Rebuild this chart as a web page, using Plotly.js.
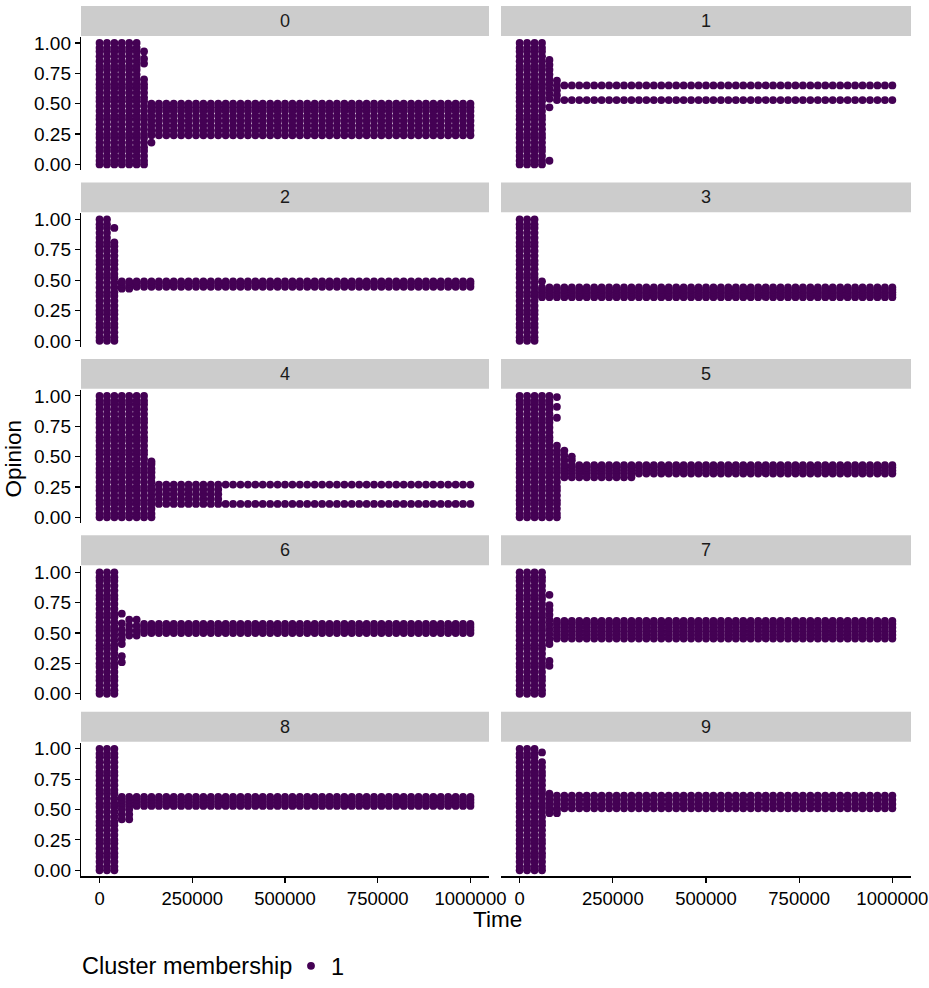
<!DOCTYPE html>
<html>
<head>
<meta charset="utf-8">
<script src="https://cdn.plot.ly/plotly-3.0.1.min.js"></script>
<style>
  html, body { margin: 0; padding: 0; background: #ffffff; }
  #chart { width: 929px; height: 988px; }
</style>
</head>
<body>
<div id="chart"></div>
<script>
// Sampled time steps of the simulation
const TIMES = [0, 20000, 40000, 60000, 80000, 100000, 120000, 140000, 160000, 180000,
  200000, 220000, 240000, 260000, 280000, 300000, 320000, 340000, 360000, 380000,
  400000, 420000, 440000, 460000, 480000, 500000, 520000, 540000, 560000, 580000,
  600000, 620000, 640000, 660000, 680000, 700000, 720000, 740000, 760000, 780000,
  800000, 820000, 840000, 860000, 880000, 900000, 920000, 940000, 960000, 980000, 1000000];

// Opinions of the agents at the start of a run (spread over the whole scale)
const FULL = [0.00, 0.03, 0.07, 0.11, 0.14, 0.18, 0.22, 0.25, 0.29, 0.33, 0.37, 0.40, 0.44,
  0.48, 0.52, 0.55, 0.59, 0.63, 0.66, 0.70, 0.74, 0.78, 0.81, 0.85, 0.89, 0.93, 0.96, 1.00];

const upTo = (vals, hi) => vals.filter(v => v <= hi);

// Per run: transient columns [time, opinions] and settled opinion rows [opinion, from, to]
const cols0 = [[0, FULL], [20000, FULL], [40000, FULL], [60000, FULL], [80000, FULL], [100000, FULL],
  [120000, upTo(FULL, 0.72).concat([0.83, 0.87, 0.93])], [140000, [0.18]]];
const band0 = [[0.24, 140000, 1000000], [0.28, 140000, 1000000], [0.32, 140000, 1000000],
  [0.36, 140000, 1000000], [0.40, 140000, 1000000], [0.44, 140000, 1000000],
  [0.47, 140000, 1000000], [0.50, 140000, 1000000]];

const cols1 = [[0, FULL], [20000, FULL], [40000, FULL], [60000, FULL],
  [80000, [0.03, 0.47, 0.54, 0.58, 0.62, 0.66, 0.70, 0.74, 0.78, 0.82, 0.86]],
  [100000, [0.53, 0.57, 0.61, 0.65, 0.69]]];
const band1 = [[0.53, 120000, 1000000], [0.65, 120000, 1000000]];

const cols2 = [[0, FULL], [20000, FULL], [40000, upTo(FULL, 0.81).concat([0.93])],
  [60000, [0.43]], [80000, [0.43]]];
const band2 = [[0.445, 60000, 1000000], [0.47, 60000, 1000000], [0.49, 60000, 1000000]];

const cols3 = [[0, FULL], [20000, FULL], [40000, FULL], [60000, [0.49]]];
const band3 = [[0.36, 60000, 1000000], [0.38, 60000, 1000000], [0.40, 60000, 1000000],
  [0.42, 60000, 1000000], [0.44, 60000, 1000000]];

const cols4 = [[0, FULL], [20000, FULL], [40000, FULL], [60000, FULL], [80000, FULL],
  [100000, FULL], [120000, FULL], [140000, upTo(FULL, 0.44).concat([0.46])]];
const band4 = [[0.11, 160000, 1000000], [0.27, 160000, 1000000], [0.15, 160000, 320000],
  [0.19, 160000, 320000], [0.23, 160000, 320000]];

const cols5 = [[0, FULL], [20000, FULL], [40000, FULL], [60000, FULL], [80000, FULL],
  [100000, upTo(FULL, 0.60).concat([0.82, 0.91, 0.99])],
  [120000, [0.47, 0.51, 0.55]], [140000, [0.47, 0.50]]];
const band5 = [[0.36, 120000, 1000000], [0.385, 120000, 1000000], [0.41, 120000, 1000000],
  [0.43, 120000, 1000000], [0.33, 120000, 300000]];

const cols6 = [[0, FULL], [20000, FULL], [40000, FULL],
  [60000, [0.26, 0.31, 0.41, 0.45, 0.49, 0.53, 0.58, 0.66]],
  [80000, [0.48, 0.52, 0.56, 0.61]], [100000, [0.48, 0.52, 0.56, 0.61]]];
const band6 = [[0.50, 120000, 1000000], [0.525, 120000, 1000000], [0.55, 120000, 1000000],
  [0.575, 120000, 1000000]];

const cols7 = [[0, FULL], [20000, FULL], [40000, FULL], [60000, FULL],
  [80000, [0.23, 0.27, 0.41, 0.45, 0.49, 0.53, 0.57, 0.61, 0.65, 0.69, 0.73, 0.815]]];
const band7 = [[0.455, 100000, 1000000], [0.485, 100000, 1000000], [0.515, 100000, 1000000],
  [0.545, 100000, 1000000], [0.575, 100000, 1000000], [0.60, 100000, 1000000]];

const cols8 = [[0, FULL], [20000, FULL], [40000, FULL],
  [60000, [0.42, 0.46, 0.50]], [80000, [0.42, 0.46, 0.50]]];
const band8 = [[0.53, 60000, 1000000], [0.555, 60000, 1000000], [0.58, 60000, 1000000],
  [0.605, 60000, 1000000]];

const cols9 = [[0, FULL], [20000, FULL], [40000, FULL],
  [60000, upTo(FULL, 0.89).concat([0.97])], [80000, [0.47, 0.50, 0.63]], [100000, [0.47, 0.50]]];
const band9 = [[0.51, 80000, 1000000], [0.545, 80000, 1000000], [0.58, 80000, 1000000],
  [0.615, 80000, 1000000]];

const RUN_LABELS = ['0', '1', '2', '3', '4', '5', '6', '7', '8', '9'];
const X_TICKS = [0, 250000, 500000, 750000, 1000000];
const X_TICK_TEXT = ['0', '250000', '500000', '750000', '1000000'];
const Y_TICKS = [0, 0.25, 0.5, 0.75, 1];
const Y_TICK_TEXT = ['0.00', '0.25', '0.50', '0.75', '1.00'];

const runs = [[cols0, band0], [cols1, band1], [cols2, band2], [cols3, band3], [cols4, band4],
  [cols5, band5], [cols6, band6], [cols7, band7], [cols8, band8], [cols9, band9]];

// ---- page geometry (pixels) ----
const W = 929, H = 988;
const COLS_PX = [[81, 489], [501, 911]];
const ROWS_PX = [[37, 171], [214, 348], [391, 525], [568, 702], [745, 879]];
const STRIP_H = 30;
const PURPLE = '#440154';
const FONT = 'Liberation Sans, Arial, Helvetica, sans-serif';

const px2x = p => p / W;
const px2y = p => 1 - p / H;

const traces = [];
const shapes = [];
const annotations = [];
const layout = {
  width: W, height: H,
  margin: { l: 0, r: 0, t: 0, b: 0 },
  paper_bgcolor: '#ffffff', plot_bgcolor: '#ffffff',
  font: { family: FONT, color: '#000000', size: 19 },
  showlegend: true,
  legend: {
    orientation: 'h', x: px2x(291), y: px2y(969), yanchor: 'middle', xanchor: 'left',
    font: { size: 23.5, color: '#000000' },
    bgcolor: 'rgba(0,0,0,0)', itemsizing: 'trace', itemwidth: 30
  }
};

runs.forEach(([cols, band], i) => {
  const row = Math.floor(i / 2), col = i % 2;
  const xs = [], ys = [];
  cols.forEach(([t, ops]) => ops.forEach(o => { xs.push(t); ys.push(o); }));
  band.forEach(([o, t0, t1]) => TIMES.forEach(t => {
    if (t >= t0 && t <= t1) { xs.push(t); ys.push(o); }
  }));
  const n = i + 1;
  const xa = n === 1 ? 'x' : 'x' + n;
  const ya = n === 1 ? 'y' : 'y' + n;
  traces.push({
    type: 'scatter', mode: 'markers', x: xs, y: ys, xaxis: xa, yaxis: ya,
    name: '1', showlegend: i === 0, hoverinfo: 'skip',
    marker: { color: PURPLE, size: 7.8, line: { width: 0 } }
  });

  const [xl, xr] = COLS_PX[col];
  const [yt, yb] = ROWS_PX[row];
  const bottom = row === ROWS_PX.length - 1;
  const left = col === 0;
  layout['xaxis' + (n === 1 ? '' : n)] = {
    domain: [px2x(xl), px2x(xr)], anchor: ya, range: [-50000, 1050000],
    showgrid: false, zeroline: false,
    showline: bottom, linecolor: '#000000', linewidth: 1.2,
    ticks: bottom ? 'outside' : '', ticklen: 5, tickwidth: 1.2, tickcolor: '#000000',
    showticklabels: bottom, tickvals: X_TICKS, ticktext: X_TICK_TEXT,
    ticklabeloverflow: 'allow',
    tickfont: { size: 18.5, color: '#000000' }
  };
  layout['yaxis' + (n === 1 ? '' : n)] = {
    domain: [px2y(yb), px2y(yt)], anchor: xa, range: [-0.05, 1.05],
    showgrid: false, zeroline: false,
    showline: left, linecolor: '#000000', linewidth: 1.2,
    ticks: left ? 'outside' : '', ticklen: 5, tickwidth: 1.2, tickcolor: '#000000',
    showticklabels: left, tickvals: Y_TICKS, ticktext: Y_TICK_TEXT,
    tickfont: { size: 19, color: '#000000' }
  };

  // facet strip
  shapes.push({
    type: 'rect', xref: 'paper', yref: 'paper', layer: 'below',
    x0: px2x(xl), x1: px2x(xr), y0: px2y(yt - 1), y1: px2y(yt - 1 - STRIP_H),
    fillcolor: '#cccccc', line: { width: 0 }
  });
  annotations.push({
    xref: 'paper', yref: 'paper', x: px2x((xl + xr) / 2), y: px2y(yt - 1 - STRIP_H / 2),
    text: RUN_LABELS[i], showarrow: false, xanchor: 'center', yanchor: 'middle',
    font: { size: 18, color: '#1a1a1a' }
  });
});

annotations.push({
  xref: 'paper', yref: 'paper', x: px2x(497), y: px2y(922), text: 'Time',
  showarrow: false, xanchor: 'center', yanchor: 'middle', font: { size: 22.5, color: '#000000' }
});
annotations.push({
  xref: 'paper', yref: 'paper', x: px2x(14), y: px2y(460), text: 'Opinion', textangle: -90,
  showarrow: false, xanchor: 'center', yanchor: 'middle', font: { size: 22.5, color: '#000000' }
});
// legend heading
annotations.push({
  xref: 'paper', yref: 'paper', x: px2x(80), y: px2y(969), text: 'Cluster membership',
  showarrow: false, xanchor: 'left', yanchor: 'middle', font: { size: 23.5, color: '#000000' }
});

layout.shapes = shapes;
layout.annotations = annotations;

Plotly.newPlot('chart', traces, layout, { displayModeBar: false, staticPlot: true });
</script>
</body>
</html>
